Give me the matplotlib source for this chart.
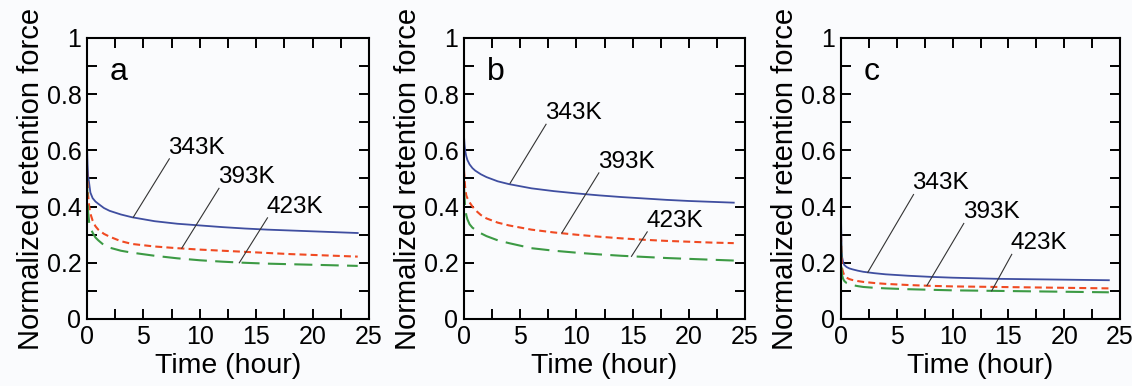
import matplotlib
matplotlib.use("Agg")
import matplotlib.pyplot as plt

plt.rcParams["font.family"] = ["Liberation Sans", "DejaVu Sans"]
plt.rcParams["lines.scale_dashes"] = False

# sampling times (hour), shared by every curve
t = [0, 0.05, 0.1, 0.2, 0.3, 0.5, 0.75, 1, 1.5, 2, 3, 4, 6, 8, 10, 12, 14, 16, 18, 20, 22, 24]

# panel a
a_343 = [0.62, 0.55, 0.51, 0.48, 0.45, 0.43, 0.418, 0.41, 0.395, 0.385, 0.372, 0.362,
         0.348, 0.339, 0.333, 0.327, 0.322, 0.318, 0.315, 0.312, 0.309, 0.306]
a_393 = [0.53, 0.48, 0.44, 0.40, 0.375, 0.35, 0.33, 0.318, 0.303, 0.293, 0.277, 0.267,
         0.258, 0.252, 0.247, 0.243, 0.239, 0.235, 0.231, 0.228, 0.225, 0.222]
a_423 = [0.50, 0.42, 0.38, 0.34, 0.325, 0.307, 0.29, 0.28, 0.263, 0.254, 0.243, 0.236,
         0.225, 0.216, 0.209, 0.204, 0.200, 0.197, 0.195, 0.193, 0.191, 0.189]

# panel b
b_343 = [0.65, 0.62, 0.60, 0.58, 0.566, 0.55, 0.537, 0.528, 0.515, 0.505, 0.49, 0.48,
         0.465, 0.455, 0.447, 0.44, 0.434, 0.429, 0.424, 0.42, 0.417, 0.414]
b_393 = [0.53, 0.50, 0.47, 0.44, 0.43, 0.415, 0.40, 0.388, 0.37, 0.358, 0.343, 0.333,
         0.318, 0.308, 0.300, 0.293, 0.287, 0.282, 0.278, 0.275, 0.272, 0.27]
b_423 = [0.47, 0.43, 0.40, 0.37, 0.355, 0.337, 0.325, 0.318, 0.305, 0.295, 0.28, 0.27,
         0.252, 0.243, 0.236, 0.23, 0.225, 0.221, 0.217, 0.214, 0.211, 0.208]

# panel c
c_343 = [0.36, 0.25, 0.22, 0.20, 0.192, 0.185, 0.18, 0.177, 0.172, 0.168, 0.163, 0.159,
         0.154, 0.150, 0.147, 0.145, 0.143, 0.142, 0.141, 0.140, 0.139, 0.138]
c_393 = [0.30, 0.21, 0.18, 0.165, 0.155, 0.147, 0.142, 0.139, 0.135, 0.132, 0.128, 0.125,
         0.121, 0.118, 0.116, 0.115, 0.114, 0.113, 0.112, 0.111, 0.110, 0.109]
c_423 = [0.28, 0.18, 0.155, 0.142, 0.135, 0.128, 0.124, 0.121, 0.117, 0.114, 0.111, 0.109,
         0.106, 0.104, 0.102, 0.101, 0.100, 0.099, 0.098, 0.097, 0.096, 0.095]

temps = ["343K", "393K", "423K"]
panel_letters = ["a", "b", "c"]
panel_data = [(a_343, a_393, a_423), (b_343, b_393, b_423), (c_343, c_393, c_423)]

# leader lines: (text x, text y, curve x, curve y) per temperature
leaders = [
    [(7.2, 0.61, 4.1, 0.362), (11.6, 0.505, 8.4, 0.252), (15.9, 0.40, 13.5, 0.200)],
    [(7.2, 0.733, 4.1, 0.483), (11.9, 0.56, 8.7, 0.306), (16.2, 0.35, 14.9, 0.223)],
    [(6.4, 0.483, 2.4, 0.166), (10.9, 0.38, 7.7, 0.119), (15.2, 0.27, 13.5, 0.100)],
]

styles = [
    dict(color="#3f4ea0", lw=1.3, ls="-"),
    dict(color="#f04a22", lw=1.5, dashes=(5, 3)),
    dict(color="#3c9a44", lw=1.5, dashes=(13, 6)),
]

W, H = 1132, 386
fig = plt.figure(figsize=(W / 100, H / 100), dpi=100, facecolor="#fafbfd")
boxes = [(87, 282), (464, 281), (841, 279)]   # left, width in px
bottom_px, top_px = 319, 38

for i, (left, width) in enumerate(boxes):
    ax = fig.add_axes([left / W, (H - bottom_px) / H, width / W, (bottom_px - top_px) / H])
    ax.set_facecolor("#fafbfd")
    for series, st in zip(panel_data[i], styles):
        ax.plot(t, series, **st)
    for (tx, ty, cx, cy), lab in zip(leaders[i], temps):
        ax.plot([tx + 0.1, cx], [ty - 0.04, cy], color="#333333", lw=0.8)
        ax.text(tx, ty, lab, fontsize=17.5, ha="left", va="center")
    ax.text(2.0, 0.88, panel_letters[i], fontsize=23, ha="left", va="center")

    ax.set_xlim(0, 25)
    ax.set_ylim(0, 1)
    ax.set_xticks([0, 5, 10, 15, 20, 25])
    ax.set_xticks([2.5, 7.5, 12.5, 17.5, 22.5], minor=True)
    ax.set_yticks([0, 0.2, 0.4, 0.6, 0.8, 1])
    ax.set_yticklabels(["0", "0.2", "0.4", "0.6", "0.8", "1"])
    ax.set_yticks([0.1, 0.3, 0.5, 0.7, 0.9], minor=True)
    ax.tick_params(which="both", direction="in", top=True, right=True,
                   length=7, width=1.4, labelsize=18, pad=4)
    for sp in ax.spines.values():
        sp.set_linewidth(1.5)
    ax.set_xlabel("Time (hour)", fontsize=20.5, labelpad=3)
    ax.set_ylabel("Normalized retention force", fontsize=21, labelpad=1)

fig.savefig("out.png", dpi=100, facecolor=fig.get_facecolor())
